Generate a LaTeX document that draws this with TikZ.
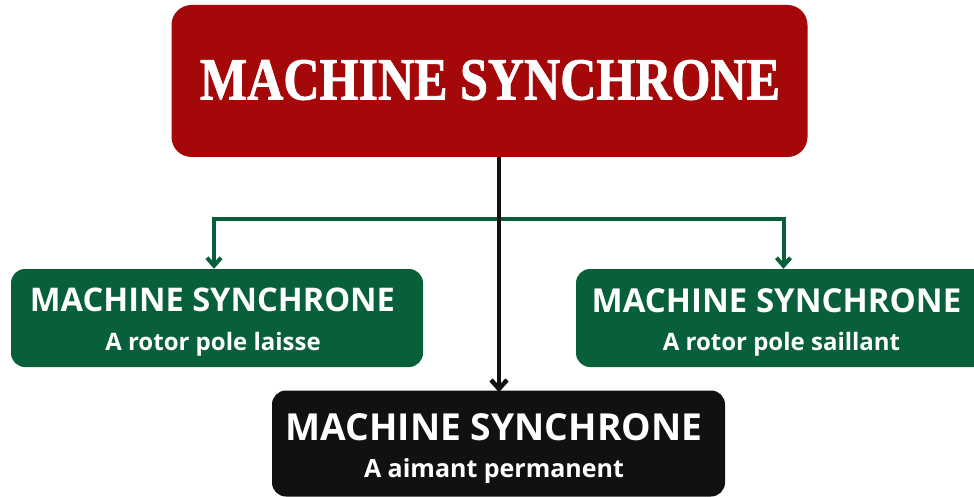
\documentclass[tikz,border=0pt]{standalone}
\usepackage{fontspec}
\setmainfont{Open Sans}
\newfontfamily\titlefont[BoldFeatures={FakeBold=1.5}]{Liberation Serif}
\usetikzlibrary{arrows.meta}
\definecolor{cred}{HTML}{A50808}
\definecolor{cgreen}{HTML}{07603A}
\definecolor{cblack}{HTML}{111111}
\tikzset{
  box/.style={draw=none, rounded corners=20pt, inner sep=0pt},
  head/.style={text=white, inner sep=0pt, anchor=base, font=\bfseries},
  greenline/.style={draw=cgreen, line width=4pt},
  greenarrow/.style={greenline, -{Straight Barb[length=8pt,width=14pt,line width=4pt]}},
  blackarrow/.style={draw=cblack, line width=4.5pt, -{Straight Barb[length=9pt,width=16pt,line width=4.5pt]}}
}
\begin{document}
\begin{tikzpicture}[x=1pt,y=-1pt]
\useasboundingbox (0,0) rectangle (974,497);
\clip (0,0) rectangle (974,497);
% boxes
\node[box, fill=cred, minimum width=636pt, minimum height=152pt] (top) at (489.5,81) {};
\node[box, fill=cgreen, minimum width=412pt, minimum height=98pt, rounded corners=14pt] (left) at (217,318) {};
\node[box, fill=cgreen, minimum width=420pt, minimum height=98pt, rounded corners=14pt] (right) at (786,318) {};
\node[box, fill=cblack, minimum width=453pt, minimum height=106pt, rounded corners=14pt] (bottom) at (498.5,443.5) {};
% texts
\node[text=white, inner sep=0pt, anchor=base] (toptxt) at (490,99.5) {\resizebox{580pt}{39.5pt}{\titlefont\bfseries MACHINE SYNCHRONE}};
\node[head, font=\bfseries\fontsize{32.6}{33}\selectfont] (lt) at (212.5,311) {MACHINE SYNCHRONE};
\node[head, font=\bfseries\fontsize{24}{24}\selectfont] (ls) at (213,350) {A rotor pole laisse};
\node[head, font=\bfseries\fontsize{33}{33}\selectfont] (rt) at (776.5,312) {MACHINE SYNCHRONE};
\node[head, font=\bfseries\fontsize{24}{24}\selectfont] (rs) at (781.5,350) {A rotor pole saillant};
\node[head, font=\bfseries\fontsize{37.2}{37}\selectfont] (bt) at (494,440) {MACHINE SYNCHRONE};
\node[head, font=\bfseries\fontsize{25}{25}\selectfont] (bs) at (494,477) {A aimant permanent};
% connectors
\coordinate (trunk) at (499,0);
\coordinate (jl) at (214,218.5);
\coordinate (jr) at (783.5,218.5);
\draw[greenline] ([xshift=-2pt]jl) -- ([xshift=2pt]jr);
\draw[greenarrow] (jl) -- (jl |- left.north);
\draw[greenarrow] (jr) -- (jr |- right.north);
\draw[blackarrow] (top.south -| trunk) -- ([yshift=-2pt]bottom.north -| trunk);
\end{tikzpicture}
\end{document}
